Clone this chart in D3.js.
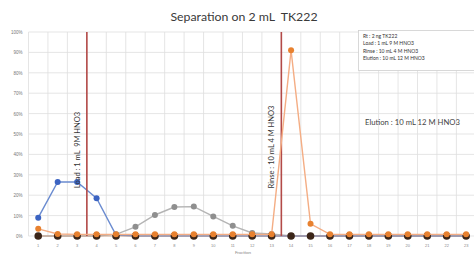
<!DOCTYPE html>
<html>
<head>
<meta charset="utf-8">
<script src="https://cdn.jsdelivr.net/npm/d3@7"></script>
<style>
	body { margin: 0; background: #fff; }
	svg { display: block; font-family: Lato, "Open Sans", sans-serif; }
	text { white-space: pre; }
</style>
</head>
<body>
<div id="chart"></div>
<script>
	// fractions 1..23
	var fractions = d3.range(1, 24);
	var yTicks = [0, 10, 20, 30, 40, 50, 60, 70, 80, 90, 100];

	// % recovered per fraction
	var blueSeries   = [9, 26.5, 26.5, 18.5, 0.5, 0, 0, 0, 0, 0, 0, 0, 0, 0, 0, 0, 0, 0, 0, 0, 0, 0, 0];
	var graySeries   = [0, 0, 0, 0, 0.8, 4.5, 10.3, 14.2, 14.4, 9.6, 5, 1.5, 1, 0, 0, 0, 0, 0, 0, 0, 0, 0, 0];
	var orangeSeries = [3.5, 1, 0.8, 0.8, 0.8, 0.8, 0.8, 0.8, 0.8, 0.8, 0.8, 0.8, 0.8, 91, 6, 0.8, 0.8, 0.8, 0.8, 0.8, 0.8, 0.8, 0.8];
	var darkSeries   = [0, 0, 0, 0, 0, 0, 0, 0, 0, 0, 0, 0, 0, 0, 0, 0, 0, 0, 0, 0, 0, 0, 0];

	// step changes happen after these fractions
	var stepAfter = [3, 13];
	var stepLabels = ["Load : 1 mL  9M HNO3", "Rinse : 10 mL 4 M HNO3"];

	var infoLines = ["Rt : 2 ng TK222", "Load : 1 mL 9 M HNO3", "Rinse : 10 mL 4 M HNO3", "Elution : 10 mL 12 M HNO3"];
	var title = "Separation on 2 mL  TK222";

	var width = 474, height = 255;
	var plotLeft = 28.5, plotTop = 32, plotBottom = 236;

	var svg = d3.select("#chart").append("svg")
		.attr("width", width)
		.attr("height", height);

	var x = d3.scaleBand()
		.domain(fractions)
		.range([plotLeft, plotLeft + 23 * 19.45]);

	var y = d3.scaleLinear()
		.domain([0, 100])
		.range([plotBottom, plotTop]);

	function cx(d){ return x(d) + x.bandwidth() / 2; }

	// gridlines
	svg.append("g")
		.selectAll("line")
		.data(yTicks)
		.enter().append("line")
		.attr("x1", plotLeft)
		.attr("x2", width)
		.attr("y1", function(d){ return y(d); })
		.attr("y2", function(d){ return y(d); })
		.style("stroke", "#dedede")
		.style("stroke-width", 0.8);

	svg.append("g")
		.selectAll("line")
		.data(fractions.concat([24]))
		.enter().append("line")
		.attr("x1", function(d){ return plotLeft + (d - 1) * x.step(); })
		.attr("x2", function(d){ return plotLeft + (d - 1) * x.step(); })
		.attr("y1", plotTop)
		.attr("y2", plotBottom)
		.style("stroke", "#dedede")
		.style("stroke-width", 0.8);

	// y axis labels
	var yAxis = d3.axisLeft(y)
		.tickValues(yTicks)
		.tickSize(0)
		.tickPadding(6)
		.tickFormat(function(d){ return d + "%"; });

	var yg = svg.append("g")
		.attr("transform", "translate(" + plotLeft + ",0)")
		.call(yAxis);
	yg.select(".domain").remove();
	yg.selectAll("text").style("font-size", "4.5px").style("fill", "#777");

	// x axis labels
	var xAxis = d3.axisBottom(x).tickSize(0).tickPadding(8);
	var xg = svg.append("g")
		.attr("transform", "translate(0," + plotBottom + ")")
		.call(xAxis);
	xg.select(".domain").remove();
	xg.selectAll("text").style("font-size", "4px").style("fill", "#888");

	svg.append("text")
		.attr("x", 243)
		.attr("y", 254)
		.attr("text-anchor", "middle")
		.style("font-size", "4.5px")
		.style("fill", "#888")
		.text("Fraction");

	// title
	svg.append("text")
		.attr("x", 244)
		.attr("y", 21)
		.attr("text-anchor", "middle")
		.style("font-size", "12.3px")
		.style("fill", "#3a3a3a")
		.text(title);

	// info box
	var box = svg.append("g");
	box.append("rect")
		.attr("x", 358.5)
		.attr("y", 30.5)
		.attr("width", 120)
		.attr("height", 40)
		.style("fill", "#fff")
		.style("stroke", "#cfcfcf")
		.style("stroke-width", 0.8);
	box.selectAll("text")
		.data(infoLines)
		.enter().append("text")
		.attr("x", 363)
		.attr("y", function(d, i){ return 38 + i * 7.3; })
		.style("font-size", "5px")
		.style("fill", "#333")
		.text(function(d){ return d; });

	svg.append("text")
		.attr("x", 365)
		.attr("y", 124.5)
		.style("font-size", "7.7px")
		.style("fill", "#444")
		.text("Elution : 10 mL 12 M HNO3");

	// series lines + markers
	var line = d3.line()
		.x(function(d, i){ return cx(fractions[i]); })
		.y(function(d){ return y(d); });

	function drawSeries(values, lineColor, dotColor, r, lw){
		svg.append("path")
			.datum(values)
			.attr("d", line)
			.style("fill", "none")
			.style("stroke", lineColor)
			.style("stroke-width", lw);
		svg.append("g")
			.selectAll("circle")
			.data(values)
			.enter().append("circle")
			.attr("cx", function(d, i){ return cx(fractions[i]); })
			.attr("cy", function(d){ return y(d); })
			.attr("r", r)
			.style("fill", dotColor);
	}

	drawSeries(graySeries, "#b4b4b4", "#8f8f8f", 3, 1.4);
	drawSeries(blueSeries, "#6a8bd0", "#3b63c2", 3, 1.4);
	drawSeries(darkSeries, "#d0a080", "#3b2518", 3.8, 0.8);

	// step lines
	svg.append("g")
		.selectAll("line")
		.data(stepAfter)
		.enter().append("line")
		.attr("x1", function(d){ return x(d) + x.bandwidth(); })
		.attr("x2", function(d){ return x(d) + x.bandwidth(); })
		.attr("y1", plotTop)
		.attr("y2", plotBottom)
		.style("stroke", "#b34a48")
		.style("stroke-width", 1.6);

	drawSeries(orangeSeries, "#f4ad84", "#e8812f", 3, 1.4);

	svg.append("g")
		.selectAll("text")
		.data(stepAfter)
		.enter().append("text")
		.attr("transform", function(d, i){
			var tx = x(d) + x.bandwidth() - 7;
			var ty = i == 0 ? 150 : 147;
			return "translate(" + tx + "," + ty + ") rotate(-90)";
		})
		.attr("text-anchor", "middle")
		.style("font-size", "7.5px")
		.style("fill", "#333")
		.text(function(d, i){ return stepLabels[i]; });
</script>
</body>
</html>
